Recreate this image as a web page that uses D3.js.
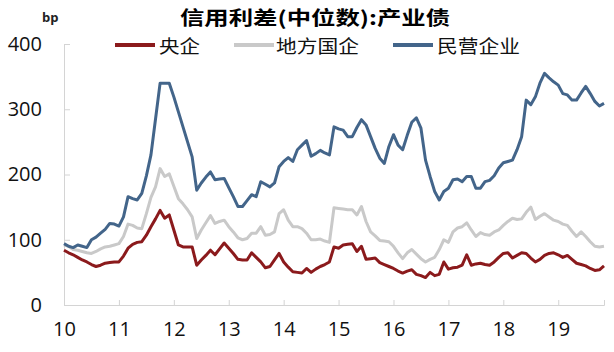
<!DOCTYPE html>
<html>
<head>
<meta charset="utf-8">
<script src="https://cdn.jsdelivr.net/npm/d3@7"></script>
<style>
  body { margin: 0; background: #fff; }
  svg { display: block; }
</style>
</head>
<body>
<div id="chart"></div>
<script>
// monthly median spreads (bp), Jan 2010 - Nov 2019
const startYear = 2010;
const yearTicks = [2010, 2011, 2012, 2013, 2014, 2015, 2016, 2017, 2018, 2019];
const yTicks = [0, 100, 200, 300, 400];
const seriesNames = ["央企", "地方国企", "民营企业"];

const centralSoe = [
  84, 80, 77, 73, 69, 66, 62, 59, 61, 64, 65, 66,
  66, 75, 87, 93, 96, 97, 107, 120, 132, 145, 133, 138,
  115, 92, 89, 89, 89, 61, 69, 76, 84, 77, 86, 95,
  87, 79, 70, 69, 69, 80, 73, 66, 57, 59, 69, 79,
  66, 58, 51, 50, 49, 56, 50, 55, 59, 62, 66, 89,
  87, 92, 93, 94, 82, 90, 70, 71, 72, 65, 62, 59,
  56, 52, 49, 52, 54, 47, 45, 42, 50, 45, 47, 66,
  55, 57, 58, 61, 77, 61, 63, 64, 62, 61, 66, 73,
  79, 80, 72, 76, 80, 79, 72, 66, 70, 76, 79, 80,
  77, 73, 76, 70, 64, 62, 60, 56, 53, 54, 60
];
const localSoe = [
  92, 90, 85, 84, 82, 80, 79, 82, 86, 89, 90, 92,
  94, 105, 124, 122, 118, 117, 140, 165, 181, 209, 197, 201,
  182, 163, 155, 146, 135, 102, 115, 126, 137, 125, 128, 130,
  120, 112, 103, 100, 102, 110, 110, 120, 107, 108, 112, 140,
  146, 130, 120, 120, 117, 110, 100, 100, 101, 98, 96, 149,
  148, 147, 146, 146, 138, 151, 128, 112, 106, 99, 98, 97,
  90, 80, 71, 80, 85, 78, 71, 66, 70, 73, 85, 100,
  96, 112, 118, 120, 126, 115, 105, 111, 108, 107, 112, 115,
  122, 128, 133, 131, 132, 142, 150, 131, 136, 140, 135, 130,
  128, 124, 122, 113, 105, 112, 105, 97, 90, 89, 90
];
const privateEnt = [
  94, 90, 88, 92, 90, 88, 100, 104, 110, 116, 125, 124,
  121, 135, 166, 163, 161, 171, 198, 230, 285, 340, 340, 340,
  319, 296, 273, 250, 227, 176, 187, 196, 204, 192, 193, 194,
  180, 166, 151, 151, 160, 169, 166, 189, 185, 181, 187, 212,
  220, 226, 220, 238, 245, 252, 228, 232, 237, 233, 230, 273,
  270, 268, 258, 258, 272, 284, 276, 258, 240, 225, 217, 243,
  261, 245, 238, 260, 280, 287, 271, 222, 197, 174, 161, 174,
  179, 192, 193, 189, 197, 197, 179, 179, 189, 191, 198, 210,
  218, 220, 222, 238, 258, 314, 307, 319, 340, 355, 348, 342,
  337, 324, 322, 314, 314, 325, 335, 324, 312, 305, 309
];

const colors = ["#8b1a1c", "#c9c9c9", "#43658a"];
const series = [centralSoe, localSoe, privateEnt];

const W = 614, H = 352;
const cjk = "'Noto Sans CJK SC', sans-serif";
const num = "'Open Sans', 'Noto Sans', sans-serif";

const svg = d3.select("#chart").append("svg")
  .attr("width", W)
  .attr("height", H);

const x = d3.scaleLinear()
  .domain([startYear, startYear + (centralSoe.length - 1) / 12])
  .range([64, 604]);

const y = d3.scaleLinear()
  .domain([0, 400])
  .range([305, 44]);

// axes
const xAxis = svg.append("g")
  .attr("transform", `translate(0,${y(0)})`)
  .call(d3.axisBottom(x).tickValues(yearTicks).tickSize(-5).tickPadding(17)
    .tickFormat(d => String(d).slice(2)));
xAxis.select(".domain").attr("stroke", "#d4d4d4");
xAxis.selectAll(".tick line").attr("stroke", "#d4d4d4");
xAxis.selectAll("text")
  .attr("font-family", num).attr("font-size", 20).attr("fill", "#111")
  .attr("dy", "0.71em");

const yAxis = svg.append("g")
  .attr("transform", `translate(${x(startYear)},0)`)
  .call(d3.axisLeft(y).tickValues(yTicks).tickSize(-6).tickPadding(22));
yAxis.select(".domain").attr("stroke", "#d4d4d4");
yAxis.selectAll(".tick line").attr("stroke", "#d4d4d4");
yAxis.selectAll("text")
  .attr("font-family", num).attr("font-size", 20).attr("fill", "#111");

// lines
const line = d3.line()
  .x((d, i) => x(startYear + i / 12))
  .y(d => y(d));

series.forEach((s, k) => {
  svg.append("path")
    .datum(s)
    .attr("fill", "none")
    .attr("stroke", colors[k])
    .attr("stroke-width", 3)
    .attr("stroke-linejoin", "round")
    .attr("d", line);
});

// title and unit
svg.append("text")
  .attr("x", 180).attr("y", 25)
  .attr("font-family", cjk).attr("font-size", 19).attr("font-weight", "bold")
  .attr("textLength", 270).attr("lengthAdjust", "spacingAndGlyphs")
  .text("信用利差(中位数):产业债");

svg.append("text")
  .attr("x", 42).attr("y", 22)
  .attr("font-family", num).attr("font-size", 13).attr("font-weight", "bold")
  .attr("fill", "#222")
  .text("bp");

// legend
const legendPos = [
  { lx: 115, tx: 159, w: 41 },
  { lx: 234, tx: 276, w: 83 },
  { lx: 393, tx: 437, w: 83 }
];
legendPos.forEach((p, k) => {
  svg.append("line")
    .attr("x1", p.lx).attr("x2", p.lx + 40)
    .attr("y1", 45).attr("y2", 45)
    .attr("stroke", colors[k]).attr("stroke-width", 4);
  svg.append("text")
    .attr("x", p.tx).attr("y", 53)
    .attr("font-family", cjk).attr("font-size", 18.5).attr("fill", "#111")
    .attr("textLength", p.w).attr("lengthAdjust", "spacingAndGlyphs")
    .text(seriesNames[k]);
});
</script>
</body>
</html>
